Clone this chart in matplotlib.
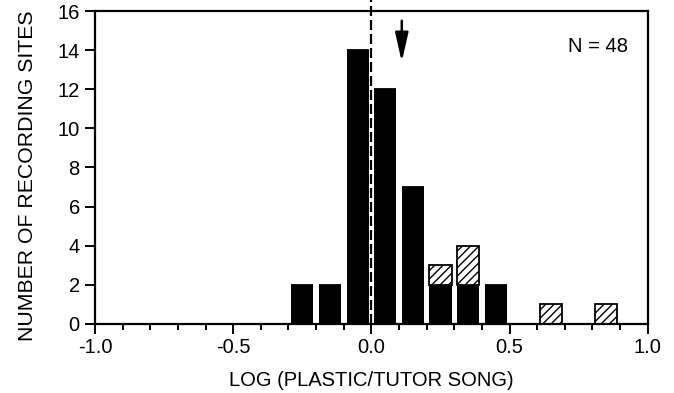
import numpy as np
import matplotlib.pyplot as plt

plt.rcParams['font.family'] = ['Liberation Sans', 'DejaVu Sans']

# bin centres (width 0.1) and counts
bin_centres = [-0.25, -0.15, -0.05, 0.05, 0.15, 0.25, 0.35, 0.45, 0.65, 0.85]
solid_counts = [2, 2, 14, 12, 7, 2, 2, 2, 0, 0]
hatched_counts = [0, 0, 0, 0, 0, 1, 2, 0, 1, 1]
n_total = 48
arrow_x = 0.11

fig = plt.figure(figsize=(6.74, 3.93), dpi=100)
ax = fig.add_axes([0.141, 0.176, 0.82, 0.796])

bar_w = 0.08
ax.bar(bin_centres, solid_counts, width=bar_w, color='black', edgecolor='black', linewidth=0)
ax.bar(bin_centres, hatched_counts, width=bar_w, bottom=solid_counts, color='white',
       edgecolor='black', linewidth=1.3, hatch='////')

# dashed reference line at zero
ax.plot([0, 0], [0, 16.6], color='black', linestyle=(0, (4.5, 1.8)), linewidth=1.6,
        clip_on=False, zorder=3)

# arrow marking the mean
ax.annotate('', xy=(arrow_x, 13.4), xytext=(arrow_x, 15.5),
            arrowprops=dict(arrowstyle='-|>,head_length=1.1,head_width=0.25',
                            color='black', lw=1.8, mutation_scale=16,
                            shrinkA=0, shrinkB=0))

ax.text(0.93, 14.2, f'N = {n_total}', ha='right', va='center', fontsize=14.5)

ax.set_xlim(-1.0, 1.0)
ax.set_ylim(0, 16)
ax.set_xticks([-1.0, -0.5, 0.0, 0.5, 1.0])
ax.set_xticklabels(['-1.0', '-0.5', '0.0', '0.5', '1.0'])
ax.set_xticks(np.arange(-1.0, 1.01, 0.1), minor=True)
ax.set_yticks(range(0, 17, 2))
ax.tick_params(axis='both', direction='out', length=7, width=1.4, labelsize=14.5, pad=3)
ax.tick_params(axis='y', pad=4)
ax.tick_params(axis='x', which='minor', direction='out', length=4, width=1.4)

for s in ax.spines.values():
    s.set_linewidth(1.6)

ax.set_xlabel('LOG (PLASTIC/TUTOR SONG)', fontsize=14.5, labelpad=10)
ax.set_ylabel('NUMBER OF RECORDING SITES', fontsize=15.3, labelpad=15, y=0.473)

fig.savefig('out.png', dpi=100)
